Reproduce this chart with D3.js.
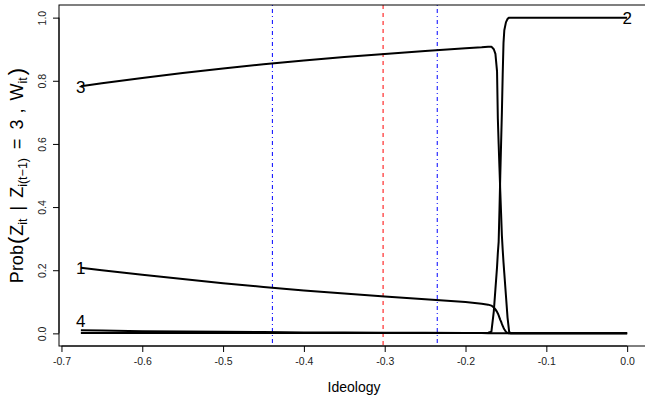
<!DOCTYPE html>
<html>
<head>
<meta charset="utf-8">
<script src="https://cdn.jsdelivr.net/npm/d3@7"></script>
<style>
  html, body { margin: 0; padding: 0; background: #fff; }
  svg { display: block; font-family: "Liberation Sans", Arial, sans-serif; }
</style>
</head>
<body>
<svg id="chart" width="645" height="402"></svg>
<script>
// ---- data ----
const ideology = [-0.676, -0.65, -0.6, -0.55, -0.5, -0.45, -0.4, -0.35, -0.3, -0.25, -0.2, -0.18,
  -0.172, -0.168, -0.165, -0.163, -0.161, -0.160, -0.159, -0.158, -0.157, -0.156, -0.155, -0.154,
  -0.153, -0.152, -0.150, -0.148, -0.146, -0.144, -0.142, -0.140, -0.135, -0.13, -0.1, -0.05, 0];
const prob1 = [0.208, 0.200, 0.186, 0.172, 0.159, 0.147, 0.136, 0.126, 0.117, 0.108, 0.099, 0.094,
  0.091, 0.088, 0.082, 0.076, 0.068, 0.063, 0.057, 0.050, 0.043, 0.037, 0.030, 0.024,
  0.018, 0.013, 0.005, 0.001, 0, 0, 0, 0, 0, 0, 0, 0, 0];
const prob2 = [0.001, 0.001, 0.001, 0.001, 0.001, 0.001, 0.001, 0.001, 0.001, 0.001, 0.001, 0.001,
  0.002, 0.005, 0.07, 0.14, 0.21, 0.255, 0.29, 0.39, 0.50, 0.60, 0.70, 0.82,
  0.92, 0.96, 0.985, 0.996, 1.0, 1.0, 1.0, 1.0, 1.0, 1.0, 1.0, 1.0, 1.0];
const prob3 = [0.783, 0.792, 0.809, 0.825, 0.839, 0.852, 0.864, 0.875, 0.885, 0.894, 0.903, 0.906,
  0.908, 0.908, 0.900, 0.885, 0.83, 0.68, 0.60, 0.525, 0.45, 0.38, 0.31, 0.265,
  0.225, 0.19, 0.12, 0.05, 0.005, 0, 0, 0, 0, 0, 0, 0, 0];
const prob4 = [0.010, 0.009, 0.007, 0.006, 0.005, 0.004, 0.003, 0.003, 0.002, 0.002, 0.001, 0.001,
  0, 0, 0, 0, 0, 0, 0, 0, 0, 0, 0, 0,
  0, 0, 0, 0, 0, 0, 0, 0, 0, 0, 0, 0, 0];
const seriesNames = ["1", "2", "3", "4"];
const labelX = [-0.676, 0, -0.676, -0.676];
const labelY = [0.204, 0.996, 0.779, 0.039];
const blueLines = [-0.439, -0.235];
const redLines = [-0.302];
const xTicks = [-0.7, -0.6, -0.5, -0.4, -0.3, -0.2, -0.1, 0.0];
const yTicks = [0.0, 0.2, 0.4, 0.6, 0.8, 1.0];

// ---- layout ----
const svg = d3.select("#chart");
const L = 59, R = 649, T = 5, B = 346;
const xMin = d3.min(ideology), xMax = d3.max(ideology);
const xPad = 0.04 * (xMax - xMin);
const x = d3.scaleLinear().domain([xMin - xPad, xMax + xPad]).range([L, R]);
const y = d3.scaleLinear().domain([-0.04, 1.04]).range([B, T]);

svg.append("defs").append("clipPath").attr("id", "clip")
  .append("rect").attr("x", L).attr("y", T).attr("width", R - L).attr("height", B - T);

const plot = svg.append("g").attr("clip-path", "url(#clip)");

// vertical reference lines
plot.selectAll(".blue").data(blueLines).enter().append("line")
  .attr("x1", d => x(d)).attr("x2", d => x(d)).attr("y1", T).attr("y2", B)
  .attr("stroke", "#0000ff").attr("stroke-width", 1).attr("stroke-dasharray", "1,3,4,3");
plot.selectAll(".red").data(redLines).enter().append("line")
  .attr("x1", d => x(d)).attr("x2", d => x(d)).attr("y1", T).attr("y2", B)
  .attr("stroke", "#ff0000").attr("stroke-width", 1).attr("stroke-dasharray", "4,4");

// curves
const series = [prob1, prob2, prob3, prob4];
const line = d3.line().x((d, i) => x(ideology[i])).y(d => y(d));
series.forEach(s => {
  plot.append("path").datum(s).attr("d", line)
    .attr("fill", "none").attr("stroke", "#000").attr("stroke-width", 2)
    .attr("stroke-linejoin", "round");
});

// curve labels
svg.selectAll(".lab").data(seriesNames).enter().append("text")
  .attr("x", (d, i) => x(labelX[i])).attr("y", (d, i) => y(labelY[i]))
  .attr("text-anchor", "middle").attr("dominant-baseline", "central")
  .attr("font-size", 17).attr("fill", "#000").text(d => d);

// box
svg.append("rect").attr("x", L).attr("y", T).attr("width", R - L).attr("height", B - T)
  .attr("fill", "none").attr("stroke", "#000").attr("stroke-width", 1);

// axes
const xAxis = d3.axisBottom(x).tickValues(xTicks).tickFormat(d3.format(".1f")).tickSize(6).tickPadding(6);
const gx = svg.append("g").attr("transform", `translate(0,${B})`).call(xAxis);
gx.select(".domain").attr("d", `M${x(xTicks[0])},0H${x(xTicks[xTicks.length - 1])}`);
gx.selectAll("text").attr("font-size", 10.5).attr("font-family", "Liberation Sans, Arial, sans-serif")
  .attr("fill", "#222")
  .text(d => d3.format(".1f")(d).replace("−", "-"));

const yAxis = d3.axisLeft(y).tickValues(yTicks).tickFormat(d3.format(".1f")).tickSize(6).tickPadding(5);
const gy = svg.append("g").attr("transform", `translate(${L},0)`).call(yAxis);
gy.select(".domain").attr("d", `M0,${y(yTicks[0])}V${y(yTicks[yTicks.length - 1])}`);
gy.selectAll(".tick text").attr("font-size", 10.5).attr("font-family", "Liberation Sans, Arial, sans-serif")
  .attr("fill", "#222")
  .attr("transform", "rotate(-90)").attr("x", 0).attr("y", -13).attr("dy", "0")
  .attr("text-anchor", "middle");

// axis titles
svg.append("text").attr("x", (L + R) / 2).attr("y", 392).attr("text-anchor", "middle")
  .attr("font-size", 14).text("Ideology");

const yl = svg.append("text").attr("transform", `translate(23,${(T + B) / 2}) rotate(-90)`)
  .attr("text-anchor", "middle").attr("font-size", 18);
yl.append("tspan").text("Prob");
yl.append("tspan").attr("font-size", 22).attr("dx", 1).attr("dy", 1).text("(");
yl.append("tspan").attr("dx", 1).attr("dy", -1).text("Z");
yl.append("tspan").attr("font-size", 12.5).attr("dy", 4).text("it");
yl.append("tspan").attr("dx", 8).attr("dy", -4).text("|");
yl.append("tspan").attr("dx", 8).text("Z");
yl.append("tspan").attr("font-size", 12.5).attr("dy", 4).text("i(t\u22121)");
yl.append("tspan").attr("dx", 9).attr("dy", -4).text("=");
yl.append("tspan").attr("dx", 9).text("3");
yl.append("tspan").attr("dx", 6).text(",");
yl.append("tspan").attr("dx", 8).text("W");
yl.append("tspan").attr("font-size", 12.5).attr("dy", 4).text("it");
yl.append("tspan").attr("font-size", 22).attr("dx", 2).attr("dy", -3).text(")");
</script>
</body>
</html>
